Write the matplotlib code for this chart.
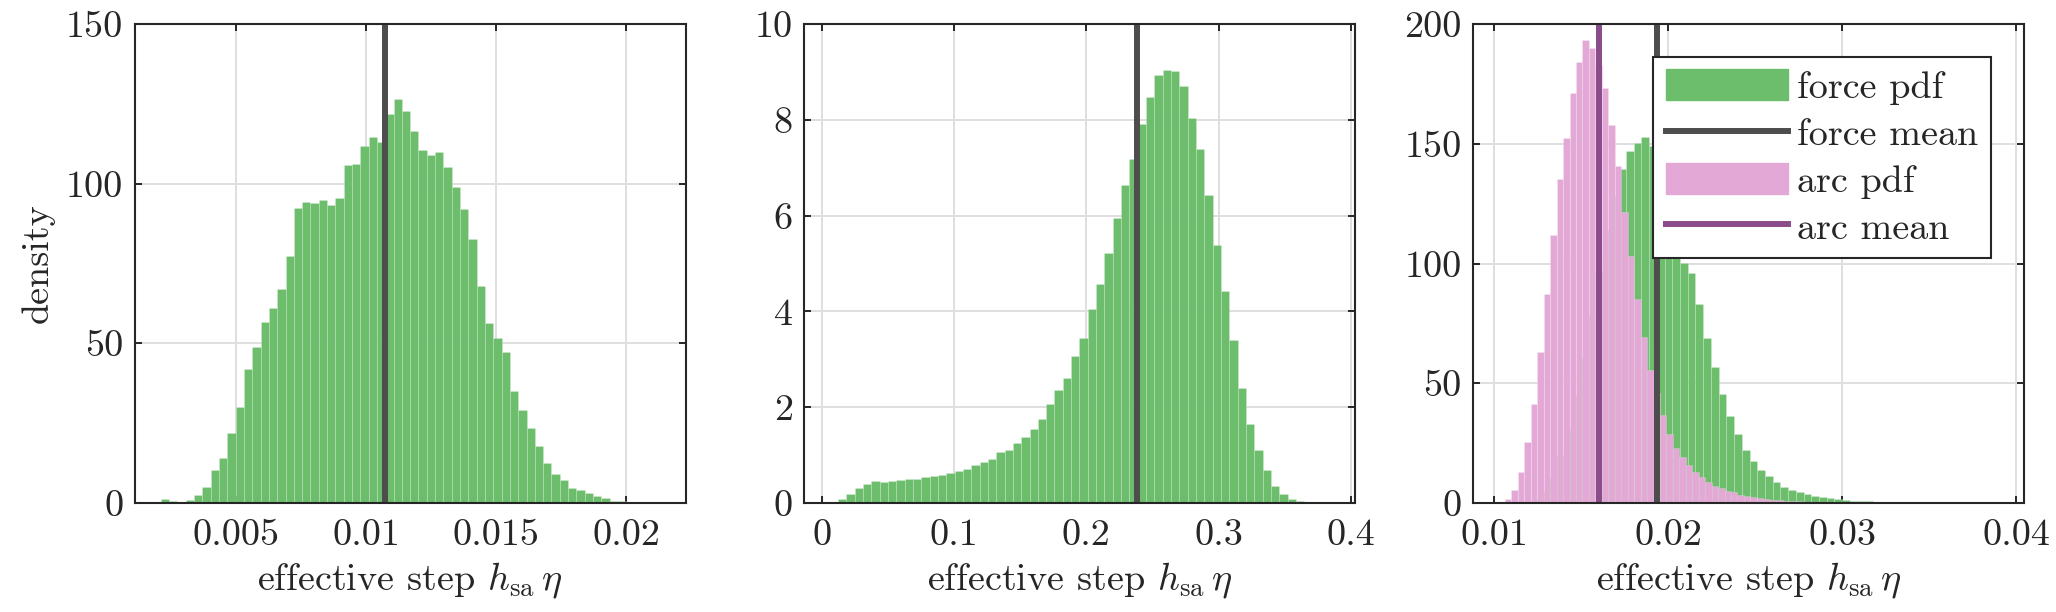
import numpy as np
import matplotlib
matplotlib.use("Agg")
import matplotlib.pyplot as plt
from matplotlib.patches import Patch
from matplotlib.lines import Line2D

plt.rcParams['font.family'] = ['cmr10', 'DejaVu Serif']
plt.rcParams['mathtext.fontset'] = 'cm'
plt.rcParams['axes.formatter.use_mathtext'] = True
plt.rcParams['axes.unicode_minus'] = False

# ---------------- data ----------------
# panel 1 (force pdf)
p1_bin_start = 0.002118
p1_bin_width = 0.0003194
p1_density = [1.4, 0.7, 0.4, 1.0, 2.4, 5.0, 10.2, 14.2, 21.9, 30.2,
              42.0, 48.8, 56.6, 61.1, 67.1, 77.3, 92.3, 94.3, 94.0, 94.9,
              93.3, 95.4, 106.0, 106.3, 111.7, 114.6, 112.9, 121.9, 126.4, 122.6,
              116.4, 110.5, 109.0, 109.8, 105.1, 99.0, 92.2, 82.8, 67.9, 56.4,
              51.7, 47.4, 35.0, 29.1, 23.5, 17.8, 12.4, 9.1, 7.3, 4.8,
              4.2, 3.1, 2.2, 1.7, 0.6, 0.5, 0.4, 0.3, 0.2, 0.1, 0.1]
p1_mean = 0.01073
p1_xticks = [0.005, 0.01, 0.015, 0.02]
p1_xticklabels = ['0.005', '0.01', '0.015', '0.02']
p1_yticks = [0, 50, 100, 150]

# panel 2 (force pdf)
p2_bin_start = 0.00613
p2_bin_width = 0.00629
p2_density = [0.03, 0.08, 0.19, 0.32, 0.40, 0.45, 0.44, 0.45, 0.47, 0.50,
              0.51, 0.54, 0.57, 0.59, 0.63, 0.66, 0.72, 0.79, 0.86, 0.92,
              1.06, 1.10, 1.25, 1.38, 1.55, 1.75, 2.06, 2.36, 2.60, 3.06,
              3.45, 4.05, 4.57, 5.22, 5.95, 6.63, 7.18, 7.91, 8.47, 8.94,
              9.05, 9.01, 8.70, 8.04, 7.39, 6.43, 5.38, 4.43, 3.40, 2.41,
              1.64, 1.10, 0.68, 0.35, 0.19, 0.09, 0.04, 0.02, 0.01, 0.01]
p2_mean = 0.2382
p2_xticks = [0, 0.1, 0.2, 0.3, 0.4]
p2_xticklabels = ['0', '0.1', '0.2', '0.3', '0.4']
p2_yticks = [0, 2, 4, 6, 8, 10]

# panel 3 (force and arc pdfs)
p3_force_bin_start = 0.011808
p3_force_bin_width = 0.0004437
p3_force_density = [0.5, 2, 5, 11, 20, 31, 45, 61, 79, 97, 114, 128,
                    139.5, 147.0, 150.2, 152.7, 149.2, 143, 132, 117, 100.1,
                    96.0, 83.0, 69.1, 56.7, 45.6, 36.3, 28.8, 22.3, 17.4, 13.9,
                    11.1, 8.6, 6.7, 5.6, 4.5, 3.8, 3.1, 2.5, 2.1, 1.7, 1.4, 1.0,
                    0.8, 0.7, 0.6, 0.5, 0.4, 0.35, 0.3, 0.25, 0.2, 0.2,
                    0.15, 0.12, 0.1, 0.1, 0.08, 0.06, 0.05, 0.04, 0.03, 0.02]
p3_force_mean = 0.01935
p3_arc_bin_start = 0.010255
p3_arc_bin_width = 0.000371
p3_arc_density = [0.4, 1.5, 5.6, 13.1, 25.5, 41.4, 63.1, 87.1, 112.1, 135.3,
                  152.6, 171.3, 184.3, 193.2, 190.0, 183.0, 173.2, 157.7, 140.9, 121.4,
                  103.3, 85.1, 69.4, 55.6, 46.0, 36.9, 28.8, 22.9, 19.1, 15.7,
                  13.1, 10.7, 8.9, 7.2, 6.1, 5.0, 4.5, 3.5, 2.9, 2.4,
                  2.0, 1.7, 1.4, 1.2, 1.0, 0.8, 0.7, 0.6, 0.5, 0.4,
                  0.35, 0.3, 0.25, 0.2, 0.15, 0.1, 0.1, 0.1]
p3_arc_mean = 0.0160
p3_xticks = [0.01, 0.02, 0.03, 0.04]
p3_xticklabels = ['0.01', '0.02', '0.03', '0.04']
p3_yticks = [0, 50, 100, 150, 200]

legend_labels = ['force pdf', 'force mean', 'arc pdf', 'arc mean']
xlabel_text = r'effective step $h_{\rm sa}\,\eta$'
ylabel_text = 'density'

# ---------------- style ----------------
GREEN = '#6cbd6c'
PINK = '#e3a8d6'
DARK = '#4d4d4d'
PURPLE = '#8b4c8b'
AXC = '#262626'
FS = 27.5

fig = plt.figure(figsize=(20.56, 6.12), dpi=100)
W = 551 / 2056
B = (612 - 503) / 612
H = 479 / 612
lefts = [134.5 / 2056, 804 / 2056, 1472.7 / 2056]
axes = [fig.add_axes([l, B, W, H]) for l in lefts]


def hist_bars(ax, start, width, dens, color):
    edges = start + width * np.arange(len(dens))
    ax.bar(edges, dens, width=width, align='edge', color=color,
           edgecolor=(1, 1, 1, 0.18), linewidth=0.8, zorder=2)


def style(ax, xlim, ylim, xticks, xticklabels, yticks):
    ax.set_xlim(*xlim)
    ax.set_ylim(*ylim)
    ax.set_xticks(xticks)
    ax.set_xticklabels(xticklabels)
    ax.set_yticks(yticks)
    ax.set_yticklabels([str(t) for t in yticks])
    ax.set_axisbelow(True)
    ax.grid(True, color='#dfdfdf', linewidth=1.4)
    for s in ax.spines.values():
        s.set_color(AXC)
        s.set_linewidth(1.5)
        s.set_zorder(5)
    ax.tick_params(axis='both', direction='in', length=5, width=1.4,
                   colors=AXC, labelsize=FS, top=True, right=True)
    ax.tick_params(axis='x', pad=11)
    ax.tick_params(axis='y', pad=8)
    ax.set_xlabel(xlabel_text, fontsize=FS, color=AXC, labelpad=6)


ax1, ax2, ax3 = axes

hist_bars(ax1, p1_bin_start, p1_bin_width, p1_density, GREEN)
ax1.axvline(p1_mean, color=DARK, linewidth=4.3, zorder=3)
style(ax1, (0.001106, 0.02228), (0, 150), p1_xticks, p1_xticklabels, p1_yticks)
ax1.set_ylabel(ylabel_text, fontsize=FS, color=AXC, labelpad=8)

hist_bars(ax2, p2_bin_start, p2_bin_width, p2_density, GREEN)
ax2.axvline(p2_mean, color=DARK, linewidth=4.3, zorder=3)
style(ax2, (-0.0133, 0.403), (0, 10), p2_xticks, p2_xticklabels, p2_yticks)

hist_bars(ax3, p3_force_bin_start, p3_force_bin_width, p3_force_density, GREEN)
hist_bars(ax3, p3_arc_bin_start, p3_arc_bin_width, p3_arc_density, PINK)
ax3.axvline(p3_force_mean, color=DARK, linewidth=4.3, zorder=3)
ax3.axvline(p3_arc_mean, color=PURPLE, linewidth=4.3, zorder=3)
style(ax3, (0.00877, 0.04043), (0, 200), p3_xticks, p3_xticklabels, p3_yticks)

handles = [Patch(facecolor=GREEN, edgecolor=GREEN),
           Line2D([0], [0], color=DARK, linewidth=4.3),
           Patch(facecolor=PINK, edgecolor=PINK),
           Line2D([0], [0], color=PURPLE, linewidth=4.3)]
leg = ax3.legend(handles, legend_labels, loc='upper right',
                 bbox_to_anchor=(0.9405, 0.931), borderaxespad=0,
                 fontsize=FS, fancybox=False, framealpha=1,
                 handlelength=3.2, handleheight=0.88, handletextpad=0.25,
                 labelspacing=0.29, borderpad=0.32)
leg.get_frame().set_edgecolor(AXC)
leg.get_frame().set_linewidth(1.5)
leg.set_zorder(10)
for t in leg.get_texts():
    t.set_color(AXC)

fig.savefig('out.png', dpi=100)
